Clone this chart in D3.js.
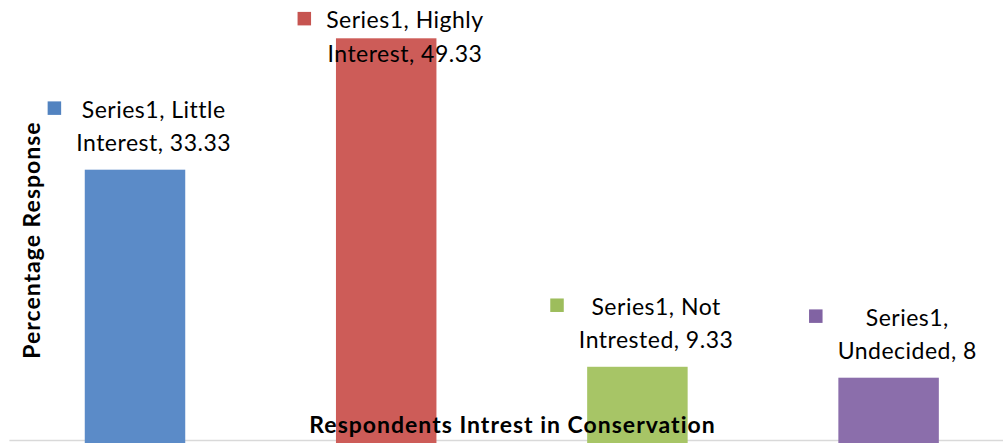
<!DOCTYPE html>
<html>
<head>
<meta charset="utf-8">
<script src="https://cdn.jsdelivr.net/npm/d3@7"></script>
<style>
  body { margin: 0; background: #fff; }
  text { font-family: Lato, "Open Sans", sans-serif; fill: #000; }
</style>
</head>
<body>
<div id="chart"></div>
<script>
// chart data
const seriesName = "Series1";
const categories = ["Little Interest", "Highly Interest", "Not Intrested", "Undecided"];
const values = [33.33, 49.33, 9.33, 8];
const barColors = ["#5b8bc8", "#cd5c58", "#a7c566", "#8b6eab"];
const keyColors = ["#5283c0", "#c65450", "#9dbd5c", "#8163a3"];
const xTitle = "Respondents Intrest in Conservation";
const yTitle = "Percentage Response";

const width = 1003;
const height = 443;

const svg = d3.select("#chart")
  .append("svg")
  .attr("width", width)
  .attr("height", height);

// band scale runs a bit past the right edge, like the cropped original
const xScale = d3.scaleBand()
  .domain(categories)
  .range([9.4, 1014.2])
  .paddingInner(0.6)
  .paddingOuter(0.3);

const yScale = d3.scaleLinear()
  .domain([0, 50])
  .range([443.4, 32.8]);

// plot area bottom border
svg.append("line")
  .attr("x1", 9.4).attr("x2", width)
  .attr("y1", 440.5).attr("y2", 440.5)
  .attr("stroke", "#d9d9d9")
  .attr("stroke-width", 1.5);

// bars
svg.selectAll(".bar")
  .data(values)
  .enter()
  .append("rect")
    .attr("class", "bar")
    .attr("x", (d, i) => xScale(categories[i]))
    .attr("y", d => yScale(d))
    .attr("width", xScale.bandwidth())
    .attr("height", d => yScale(0) - yScale(d))
    .attr("fill", (d, i) => barColors[i]);

// data labels: two centred lines plus a colour key square
const lineGap = 33.5;
values.forEach((v, i) => {
  const words = categories[i].split(" ");
  const line1 = seriesName + ", " + words.slice(0, -1).join(" ");
  const line2 = words[words.length - 1] + ", " + v;
  const cx = xScale(categories[i]) + xScale.bandwidth() / 2 + 18.7;
  // keep label inside the top of the chart
  const base2 = Math.max(yScale(v) - 18.5, 61.7);
  const base1 = base2 - lineGap;

  const g = svg.append("g");
  const t1 = g.append("text")
    .attr("x", cx).attr("y", base1)
    .attr("text-anchor", "middle")
    .attr("font-size", "23px")
    .attr("letter-spacing", "0.5px")
    .text(line1.trim());
  const t2 = g.append("text")
    .attr("x", cx).attr("y", base2)
    .attr("text-anchor", "middle")
    .attr("font-size", "23px")
    .attr("letter-spacing", "0.5px")
    .text(line2);

  const w = Math.max(t1.node().getComputedTextLength(), t2.node().getComputedTextLength());
  g.append("rect")
    .attr("x", cx - w / 2 - 28.6)
    .attr("y", base1 - 16.3)
    .attr("width", 13.5)
    .attr("height", 13.5)
    .attr("fill", keyColors[i]);
});

// axis titles
svg.append("text")
  .attr("x", 512.5)
  .attr("y", 433.3)
  .attr("text-anchor", "middle")
  .attr("font-size", "23px")
  .attr("font-weight", "bold")
  .attr("letter-spacing", "1px")
  .text(xTitle);

svg.append("text")
  .attr("transform", "translate(39.5,240) rotate(-90)")
  .attr("text-anchor", "middle")
  .attr("font-size", "23px")
  .attr("font-weight", "bold")
  .attr("letter-spacing", "1px")
  .text(yTitle);
</script>
</body>
</html>
